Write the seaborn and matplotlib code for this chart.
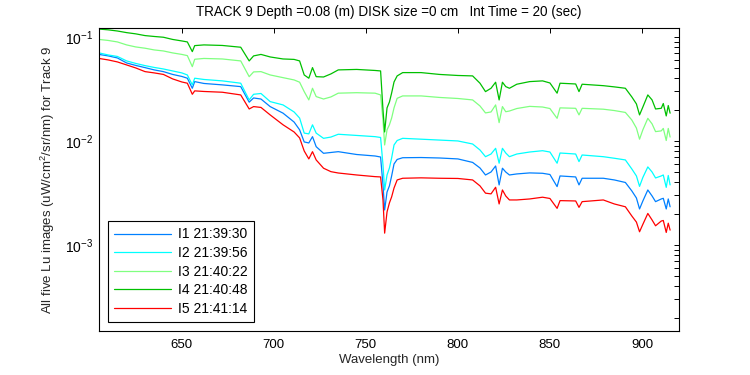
import numpy as np
import pandas as pd
import matplotlib
matplotlib.use("Agg")
import matplotlib.pyplot as plt
import seaborn as sns
from matplotlib.ticker import FixedLocator, LogLocator, NullFormatter

# ------------------------------------------------------------
# data (Lu spectra, 5 images, track 9)
# ------------------------------------------------------------

wavelength = [605, 610, 615, 620, 625, 630, 635, 640, 645, 650,
              653, 655.7, 657, 662, 672, 682, 686.6, 689, 693, 698,
              705, 711, 714, 716.5, 719, 721, 723, 727, 731, 735,
              745, 755, 758, 759.3, 760.2, 761.5, 762.8, 764, 765.3, 767,
              770, 780, 790, 800, 808, 812, 815, 818, 820.5, 822.4,
              824.2, 826, 828, 832, 839, 846, 850, 853.9, 855.5, 864,
              865.8, 867.5, 879, 885, 891, 894.5, 897, 898.7, 900.5, 903.2,
              905.5, 907.4, 910.5, 911.6, 913.2, 914.3, 915.3]

lu_i1 = [0.0679, 0.0657, 0.0628, 0.0562, 0.0532, 0.0507, 0.0482, 0.0464, 0.0436, 0.0417,
         0.0401, 0.0321, 0.0372, 0.0357, 0.0346, 0.0333, 0.0236, 0.0259, 0.0253, 0.0214,
         0.0185, 0.0152, 0.0128, 0.00978, 0.00957, 0.0110, 0.00881, 0.00761, 0.00775, 0.00789,
         0.00741, 0.00717, 0.00701, 0.00378, 0.00217, 0.00323, 0.00370, 0.00461, 0.00601, 0.00664,
         0.00690, 0.00693, 0.00686, 0.00672, 0.00622, 0.00550, 0.00471, 0.00503, 0.00575, 0.00378,
         0.00547, 0.00503, 0.00471, 0.00482, 0.00493, 0.00489, 0.00476, 0.00364, 0.00461, 0.00451,
         0.00378, 0.00438, 0.00438, 0.00422, 0.00399, 0.00331, 0.00283, 0.00222, 0.00265, 0.00338,
         0.00296, 0.00261, 0.00277, 0.00281, 0.00222, 0.00277, 0.00233]

lu_i2 = [0.0702, 0.0671, 0.0649, 0.0588, 0.0556, 0.0530, 0.0509, 0.0492, 0.0471, 0.0451,
         0.0431, 0.0346, 0.0401, 0.0390, 0.0378, 0.0359, 0.0248, 0.0281, 0.0286, 0.0239,
         0.0222, 0.0190, 0.0166, 0.0119, 0.0117, 0.0143, 0.0119, 0.0106, 0.0109, 0.0116,
         0.0113, 0.0110, 0.0108, 0.00588, 0.00338, 0.00471, 0.00550, 0.00687, 0.00915, 0.0101,
         0.0106, 0.0104, 0.0102, 0.0100, 0.00935, 0.00819, 0.00706, 0.00749, 0.00850, 0.00611,
         0.00850, 0.00766, 0.00706, 0.00749, 0.00783, 0.00806, 0.00783, 0.00611, 0.00766, 0.00749,
         0.00633, 0.00733, 0.00706, 0.00682, 0.00657, 0.00538, 0.00461, 0.00366, 0.00446, 0.00563,
         0.00503, 0.00441, 0.00461, 0.00471, 0.00358, 0.00466, 0.00378]

lu_i3 = [0.0946, 0.0925, 0.0895, 0.0838, 0.0801, 0.0779, 0.0750, 0.0733, 0.0702, 0.0679,
         0.0661, 0.0518, 0.0610, 0.0621, 0.0614, 0.0588, 0.0415, 0.0461, 0.0464, 0.0431,
         0.0406, 0.0386, 0.0367, 0.0298, 0.0248, 0.0321, 0.0267, 0.0253, 0.0265, 0.0288,
         0.0291, 0.0288, 0.0277, 0.0159, 0.00915, 0.0128, 0.0143, 0.0166, 0.0208, 0.0257,
         0.0271, 0.0271, 0.0262, 0.0256, 0.0248, 0.0217, 0.0186, 0.0190, 0.0222, 0.0150,
         0.0214, 0.0191, 0.0194, 0.0205, 0.0215, 0.0212, 0.0205, 0.0165, 0.0208, 0.0206,
         0.0178, 0.0206, 0.0202, 0.0196, 0.0188, 0.0159, 0.0133, 0.0104, 0.0128, 0.0165,
         0.0146, 0.0123, 0.0125, 0.0132, 0.0101, 0.0132, 0.0109]

lu_i4 = [0.119, 0.117, 0.114, 0.110, 0.107, 0.103, 0.101, 0.0993, 0.0946, 0.0915,
         0.0895, 0.0722, 0.0825, 0.0838, 0.0828, 0.0796, 0.0588, 0.0657, 0.0679, 0.0642,
         0.0614, 0.0608, 0.0588, 0.0431, 0.0401, 0.0507, 0.0415, 0.0412, 0.0441, 0.0482,
         0.0487, 0.0476, 0.0471, 0.0199, 0.0122, 0.0208, 0.0237, 0.0289, 0.0369, 0.0422,
         0.0454, 0.0454, 0.0436, 0.0426, 0.0422, 0.0359, 0.0298, 0.0321, 0.0367, 0.0248,
         0.0367, 0.0333, 0.0321, 0.0351, 0.0372, 0.0378, 0.0361, 0.0288, 0.0359, 0.0353,
         0.0298, 0.0351, 0.0340, 0.0331, 0.0321, 0.0265, 0.0227, 0.0178, 0.0212, 0.0277,
         0.0248, 0.0203, 0.0206, 0.0229, 0.0174, 0.0219, 0.0185]

lu_i5 = [0.0621, 0.0601, 0.0575, 0.0538, 0.0503, 0.0464, 0.0451, 0.0436, 0.0395, 0.0369,
         0.0359, 0.0281, 0.0303, 0.0299, 0.0294, 0.0277, 0.0203, 0.0214, 0.0210, 0.0178,
         0.0143, 0.0122, 0.0107, 0.00801, 0.00672, 0.00789, 0.00657, 0.00547, 0.00507, 0.00492,
         0.00471, 0.00454, 0.00451, 0.00271, 0.00130, 0.00208, 0.00254, 0.00290, 0.00353, 0.00422,
         0.00438, 0.00442, 0.00438, 0.00436, 0.00422, 0.00370, 0.00315, 0.00310, 0.00359, 0.00248,
         0.00338, 0.00296, 0.00271, 0.00271, 0.00277, 0.00288, 0.00280, 0.00225, 0.00267, 0.00265,
         0.00230, 0.00261, 0.00271, 0.00248, 0.00233, 0.00190, 0.00166, 0.00134, 0.00158, 0.00201,
         0.00174, 0.00153, 0.00170, 0.00172, 0.00132, 0.00162, 0.00139]

image_labels = ["I1 21:39:30", "I2 21:39:56", "I3 21:40:22", "I4 21:40:48", "I5 21:41:14"]
line_colors = ["#0080ff", "#00ffff", "#80ff80", "#00c000", "#ff0000"]
x_ticks = [650, 700, 750, 800, 850, 900]

# ------------------------------------------------------------
# long table for seaborn
# ------------------------------------------------------------

frames = []
for values, label in zip([lu_i1, lu_i2, lu_i3, lu_i4, lu_i5], image_labels):
    frames.append(pd.DataFrame({"wavelength": wavelength, "lu": values, "image": label}))
df = pd.concat(frames, ignore_index=True)

# ------------------------------------------------------------
# style (matlab-ish)
# ------------------------------------------------------------

sns.set_style("white")
plt.rcParams["font.family"] = ["Liberation Sans", "DejaVu Sans"]
plt.rcParams["mathtext.fontset"] = "custom"
plt.rcParams["mathtext.rm"] = "Liberation Sans"
plt.rcParams["mathtext.default"] = "regular"
plt.rcParams["axes.edgecolor"] = "black"
plt.rcParams["axes.linewidth"] = 0.8
plt.rcParams["text.color"] = "black"
plt.rcParams["xtick.color"] = "black"
plt.rcParams["ytick.color"] = "black"

fig = plt.figure(figsize=(7.5, 3.75), dpi=100)
ax = fig.add_axes([0.132, 0.1173, 0.773, 0.8072])

sns.lineplot(
    data=df,
    x="wavelength",
    y="lu",
    hue="image",
    palette=dict(zip(image_labels, line_colors)),
    estimator=None,
    linewidth=0.9,
    ax=ax
)

ax.set_yscale("log")
ax.set_xlim(605, 920)
ax.set_ylim(1.49e-4, 0.121)

ax.xaxis.set_major_locator(FixedLocator(x_ticks))
ax.yaxis.set_major_locator(LogLocator(base=10))
ax.yaxis.set_minor_locator(LogLocator(base=10, subs=np.arange(2, 10)))
ax.yaxis.set_minor_formatter(NullFormatter())

ax.tick_params(which="both", direction="in", top=True, right=True,
               length=3.8, width=0.7, labelsize=9.5)
ax.tick_params(axis="x", pad=6)
ax.tick_params(axis="y", pad=4, labelsize=10)

ax.set_xlabel("Wavelength (nm)", fontsize=9.5, labelpad=2)
ax.set_ylabel("All five Lu images (uW/cm$^2$/sr/nm) for Track 9", fontsize=9.5, labelpad=6)
ax.set_title("TRACK 9 Depth =0.08 (m) DISK size =0 cm   Int Time = 20 (sec)",
             fontsize=9.75, pad=9)

handles, labels = ax.get_legend_handles_labels()
leg = ax.legend(
    handles, labels,
    loc="lower left",
    bbox_to_anchor=(0.0155, 0.0297),
    borderaxespad=0,
    fontsize=10,
    frameon=True,
    fancybox=False,
    framealpha=1,
    edgecolor="black",
    borderpad=0.45,
    labelspacing=0.33,
    handlelength=4.1,
    handletextpad=0.5
)
leg.get_frame().set_linewidth(0.8)

fig.savefig("out.png", dpi=100, facecolor="white")
